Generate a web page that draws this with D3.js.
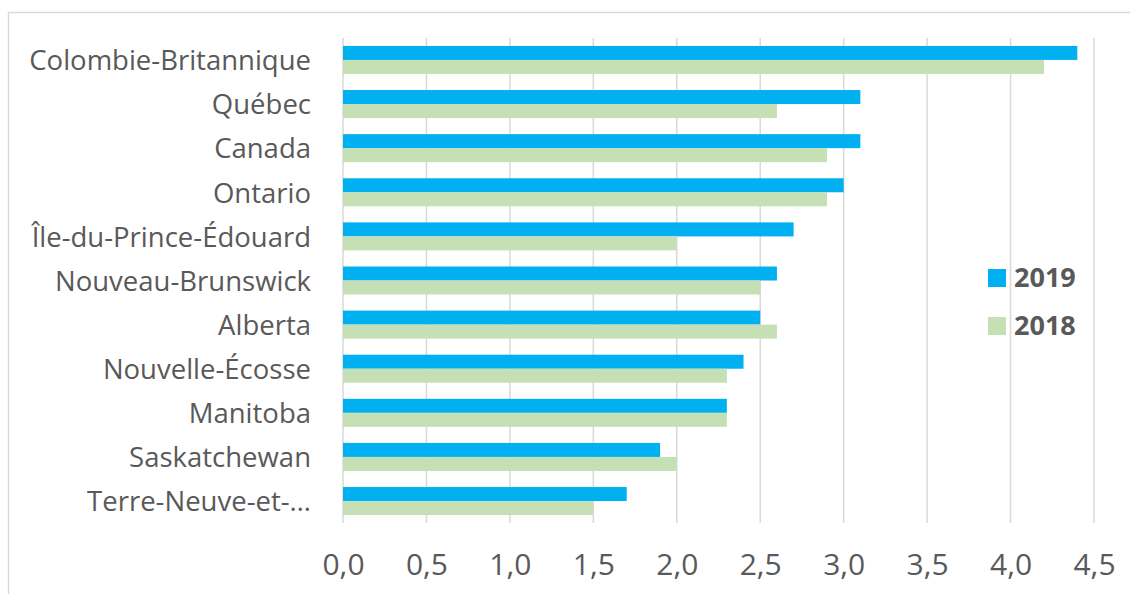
<!DOCTYPE html>
<html><head><meta charset="utf-8">
<script src="https://cdn.jsdelivr.net/npm/d3@7"></script>
<style>
html,body{margin:0;padding:0;background:#fff;}
svg{display:block;}
text{font-family:"Open Sans", sans-serif;}
</style></head>
<body>
<svg id="chart" width="1130" height="594"></svg>
<script>
const categories = ["Colombie-Britannique","Québec","Canada","Ontario","Île-du-Prince-Édouard","Nouveau-Brunswick","Alberta","Nouvelle-Écosse","Manitoba","Saskatchewan","Terre-Neuve-et-…"];
const series = ["2019","2018"];
const values2019 = [4.4,3.1,3.1,3.0,2.7,2.6,2.5,2.4,2.3,1.9,1.7];
const values2018 = [4.2,2.6,2.9,2.9,2.0,2.5,2.6,2.3,2.3,2.0,1.5];
const ticks = [0,0.5,1.0,1.5,2.0,2.5,3.0,3.5,4.0,4.5];
const colors = {"2019":"#00b0f0","2018":"#c5e0b4"};
const FONT = "'Open Sans', sans-serif";

const svg = d3.select("#chart");
const data = categories.map((c,i)=>({cat:c, "2019":values2019[i], "2018":values2018[i]}));

// chart border
svg.append("rect").attr("x",8.5).attr("y",12.5).attr("width",1140).attr("height",600)
  .attr("fill","none").attr("stroke","#d9d9d9").attr("stroke-width",1.5);

const x = d3.scaleLinear().domain([0,4.5]).range([343,1094]);
const y = d3.scaleBand().domain(categories).range([38,523]).paddingInner(0.365).paddingOuter(0.18);
const ys = d3.scaleBand().domain(series).range([0,y.bandwidth()]);

// gridlines
svg.append("g").selectAll("line").data(ticks).join("line")
  .attr("x1",d=>x(d)).attr("x2",d=>x(d)).attr("y1",38).attr("y2",523)
  .attr("stroke","#d9d9d9").attr("stroke-width",1.5);

// bars
const g = svg.append("g").selectAll("g").data(data).join("g")
  .attr("transform",d=>`translate(0,${y(d.cat)})`);
g.selectAll("rect").data(d=>series.map(s=>({s, v:d[s]}))).join("rect")
  .attr("x",x(0)).attr("y",d=>ys(d.s)).attr("width",d=>x(d.v)-x(0)).attr("height",ys.bandwidth())
  .attr("fill",d=>colors[d.s]);

// category labels
const yAxis = d3.axisLeft(y).tickSize(0).tickPadding(32);
const ya = svg.append("g").attr("transform",`translate(${x(0)},1.5)`).call(yAxis);
ya.select(".domain").remove();
ya.selectAll("text").attr("font-size",27.5).attr("fill","#595959").style("font-family",FONT);

// x axis labels
const xAxis = d3.axisBottom(x).tickValues(ticks).tickSize(0).tickPadding(0)
  .tickFormat(d=>d3.format(".1f")(d).replace(".",","));
const xa = svg.append("g").attr("transform",`translate(0,549)`).call(xAxis);
xa.select(".domain").remove();
xa.selectAll("text").attr("font-size",30).attr("fill","#595959").style("font-family",FONT)
  .attr("dy",null).attr("y",26);

// legend
const leg = svg.append("g").selectAll("g").data(series).join("g")
  .attr("transform",(d,i)=>`translate(988,${269+i*48})`);
leg.append("rect").attr("width",18).attr("height",18).attr("fill",d=>colors[d]);
leg.append("text").attr("x",26).attr("y",18).text(d=>d).style("font-family",FONT)
  .attr("font-size",27).attr("font-weight","bold").attr("fill","#595959");
</script>
</body></html>
